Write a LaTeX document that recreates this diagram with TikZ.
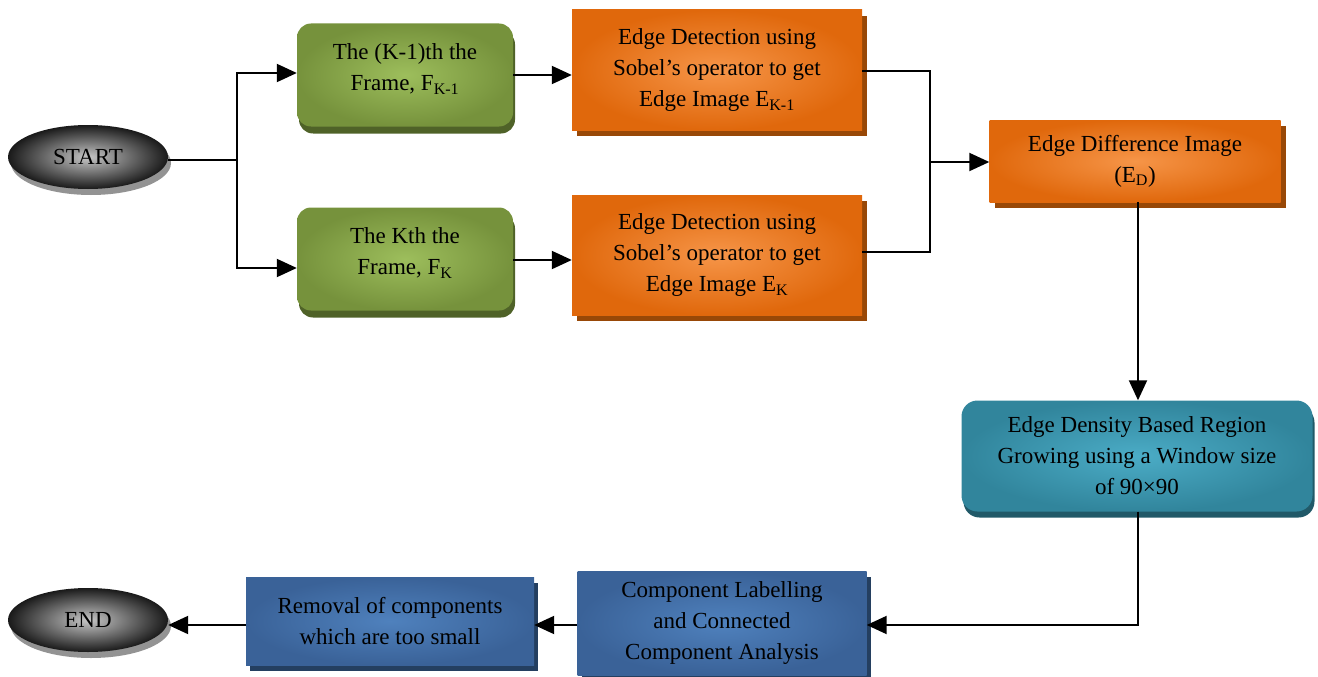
\documentclass[tikz,border=0pt]{standalone}
\usepackage{fontspec}
\setmainfont{Liberation Serif}
\usetikzlibrary{shapes.geometric,arrows.meta,shadows}
\definecolor{gin}{HTML}{9DBE5C}
\definecolor{gout}{HTML}{76923C}
\definecolor{gsh}{HTML}{4F6228}
\definecolor{oin}{HTML}{F69548}
\definecolor{oout}{HTML}{E0680C}
\definecolor{osh}{HTML}{984807}
\definecolor{tin}{HTML}{4BACC6}
\definecolor{tout}{HTML}{31859C}
\definecolor{tsh}{HTML}{215968}
\definecolor{bin}{HTML}{4F81BD}
\definecolor{bout}{HTML}{3A6298}
\definecolor{bsh}{HTML}{243F60}
\begin{document}
\begin{tikzpicture}[x=1pt,y=-1pt,
  lbl/.style={align=center,font=\fontsize{23}{31}\selectfont,inner sep=0pt,text=black},
  greenbox/.style={lbl,rounded corners=14pt,inner color=gin,outer color=gout,
    minimum width=216pt,minimum height=103pt,
    drop shadow={shadow xshift=2pt,shadow yshift=-7pt,fill=gsh,opacity=1}},
  orangebox/.style={lbl,inner color=oin,outer color=oout,
    minimum width=290pt,minimum height=120pt,
    drop shadow={shadow xshift=5pt,shadow yshift=-6pt,fill=osh,opacity=1}},
  tealbox/.style={lbl,rounded corners=16pt,inner color=tin,outer color=tout,
    minimum width=351pt,minimum height=111pt,
    drop shadow={shadow xshift=2pt,shadow yshift=-6pt,fill=tsh,opacity=1}},
  bluebox/.style={lbl,inner color=bin,outer color=bout,
    drop shadow={shadow xshift=4pt,shadow yshift=-6pt,fill=bsh,opacity=1}},
  term/.style={lbl,ellipse,minimum width=160pt,minimum height=64pt,
    inner color=black!22,outer color=black!90,
    drop shadow={shadow xshift=3pt,shadow yshift=-6pt,fill=gray!85,opacity=1}},
  line/.style={draw=black,line width=2pt},
  arr/.style={line,-{Triangle[length=20pt,width=18pt]}}
]
\useasboundingbox (0,0) rectangle (1318,677);

\node[term] (start) at (88,157) {START};
\node[term] (end) at (88,620) {END};

\node[greenbox] (g1) at (405,75) {};
\node[lbl] (g1t) at (405,69) {The (K-1)th the\\Frame, F\textsubscript{K-1}};
\node[greenbox] (g2) at (405,259) {};
\node[lbl] (g2t) at (405,253) {The Kth the\\Frame, F\textsubscript{K}};

\node[orangebox] (o1) at (717,70) {Edge Detection using\\Sobel’s operator to get\\Edge Image E\textsubscript{K-1}};
\node[orangebox] (o2) at (717,255) {Edge Detection using\\Sobel’s operator to get\\Edge Image E\textsubscript{K}};

\node[orangebox,minimum width=291pt,minimum height=82pt] (ed) at (1135,161) {Edge Difference Image\\(E\textsubscript{D})};

\node[tealbox] (rg) at (1137,456) {Edge Density Based Region\\Growing using a Window size\\of 90×90};

\node[bluebox,minimum width=289pt,minimum height=104pt] (cl) at (722,623) {Component Labelling\\and Connected\\Component Analysis};
\node[bluebox,minimum width=288pt,minimum height=88pt] (rm) at (390,621) {Removal of components\\which are too small};

\coordinate (sp) at (237,160);
\coordinate (mg) at (930,162);

\draw[line] (start.east |- sp) -- (sp);
\draw[arr] (sp) |- (g1.west |- 0,73);
\draw[arr] (sp) |- (g2.west |- 0,268);
\draw[arr] (g1.east |- 0,75) -- (o1.west |- 0,75);
\draw[arr] (g2.east |- 0,260) -- (o2.west |- 0,260);
\draw[line] (o1.east |- 0,71) -| (mg);
\draw[line] (o2.east |- 0,252) -| (mg);
\draw[arr] (mg) -- (ed.west |- mg);
\draw[arr] (ed.south -| 1138,0) -- (rg.north -| 1138,0);
\draw[arr] (rg.south -| 1138,0) |- (cl.east |- 0,625);
\draw[arr] (cl.west |- 0,625) -- (rm.east |- 0,625);
\draw[arr] (rm.west |- 0,625) -- (end.east |- 0,625);
\end{tikzpicture}
\end{document}
